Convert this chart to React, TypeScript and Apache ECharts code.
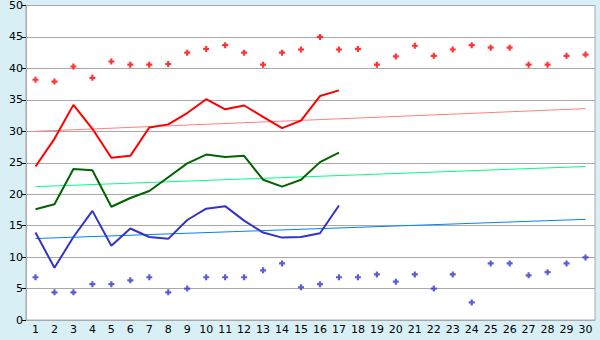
import React, { useEffect, useRef } from "react";
import * as echarts from "echarts";

const categories = Array.from({ length: 30 }, (_, i) => String(i + 1));
const yTicks = { min: 0, max: 50, interval: 5 };

const redDots = [38.2, 37.9, 40.3, 38.5, 41.1, 40.6, 40.6, 40.7, 42.5, 43.1, 43.7, 42.5, 40.6, 42.5, 43.0, 45.0, 43.0, 43.1, 40.6, 41.9, 43.6, 42.0, 43.0, 43.7, 43.3, 43.3, 40.6, 40.6, 42.0, 42.2];
const redLine = [24.4, 28.8, 34.2, 30.4, 25.8, 26.1, 30.6, 31.1, 32.9, 35.1, 33.5, 34.1, 32.3, 30.5, 31.7, 35.6, 36.5];
const greenLine = [17.6, 18.4, 24.0, 23.8, 18.0, 19.4, 20.5, 22.7, 24.9, 26.3, 25.9, 26.1, 22.3, 21.2, 22.3, 25.1, 26.6];
const blueLine = [13.9, 8.3, 13.2, 17.35, 11.8, 14.55, 13.2, 12.9, 15.9, 17.7, 18.1, 15.8, 13.9, 13.1, 13.2, 13.8, 18.2];
const blueDots = [6.8, 4.4, 4.4, 5.7, 5.7, 6.3, 6.8, 4.4, 5.0, 6.8, 6.8, 6.8, 7.9, 9.0, 5.2, 5.7, 6.8, 6.8, 7.25, 6.1, 7.25, 5.0, 7.25, 2.8, 9.0, 9.0, 7.1, 7.6, 9.0, 9.95];
const redTrend = [30.0, 33.6];
const greenTrend = [21.2, 24.4];
const blueTrend = [12.95, 16.0];

const marker = "path://M1.6,0H3.4V1.6H5V3.4H3.4V5H1.6V3.4H0V1.6H1.6Z";

export default function App() {
  const ref = useRef<HTMLDivElement>(null);
  useEffect(() => {
    if (!ref.current) return;
    const chart = echarts.init(ref.current, undefined, { renderer: "svg" });
    const first = categories[0];
    const last = categories[categories.length - 1];
    const trend = (vals: number[], color: string) => ({
      type: "line",
      data: [[first, vals[0]], [last, vals[1]]],
      symbol: "none",
      lineStyle: { color, width: 1 },
      z: 2,
    });
    const line = (vals: number[], color: string) => ({
      type: "line",
      data: vals,
      symbol: "none",
      lineStyle: { color, width: 2 },
      z: 3,
    });
    const dots = (vals: number[], color: string) => ({
      type: "scatter",
      data: vals,
      symbol: marker,
      symbolSize: 6,
      itemStyle: { color },
      z: 4,
    });
    chart.setOption({
      animation: false,
      backgroundColor: "#D8EFF5",
      textStyle: { fontFamily: "DejaVu Sans" },
      grid: {
        left: 26,
        top: 5,
        right: 5,
        bottom: 20,
        show: true,
        backgroundColor: "#fff",
        borderColor: "#A9A9A9",
        borderWidth: 1,
      },
      xAxis: {
        type: "category",
        data: categories,
        boundaryGap: true,
        axisLine: { lineStyle: { color: "#A9A9A9", width: 1 } },
        axisTick: { alignWithLabel: true, length: 6, lineStyle: { color: "#000" } },
        axisLabel: { color: "#000", fontSize: 11, margin: 4, interval: 0 },
        splitLine: { show: false },
      },
      yAxis: {
        type: "value",
        min: yTicks.min,
        max: yTicks.max,
        interval: yTicks.interval,
        axisLine: { show: true, lineStyle: { color: "#A9A9A9", width: 1 } },
        axisTick: { show: true, length: 4, lineStyle: { color: "#000" } },
        axisLabel: { color: "#000", fontSize: 11, margin: 3 },
        splitLine: { lineStyle: { color: "#A9A9A9", width: 1 } },
      },
      series: [
        trend(redTrend, "#FF8080"),
        trend(greenTrend, "#00FF80"),
        trend(blueTrend, "#0080FF"),
        line(redLine, "#FF0000"),
        line(greenLine, "#006400"),
        line(blueLine, "#3333CC"),
        dots(redDots, "#FF0000"),
        dots(blueDots, "#3333CC"),
      ],
    });
    return () => chart.dispose();
  }, []);
  return <div ref={ref} style={{ width: 600, height: 340, position: "absolute", left: 0, top: 0 }} />;
}
